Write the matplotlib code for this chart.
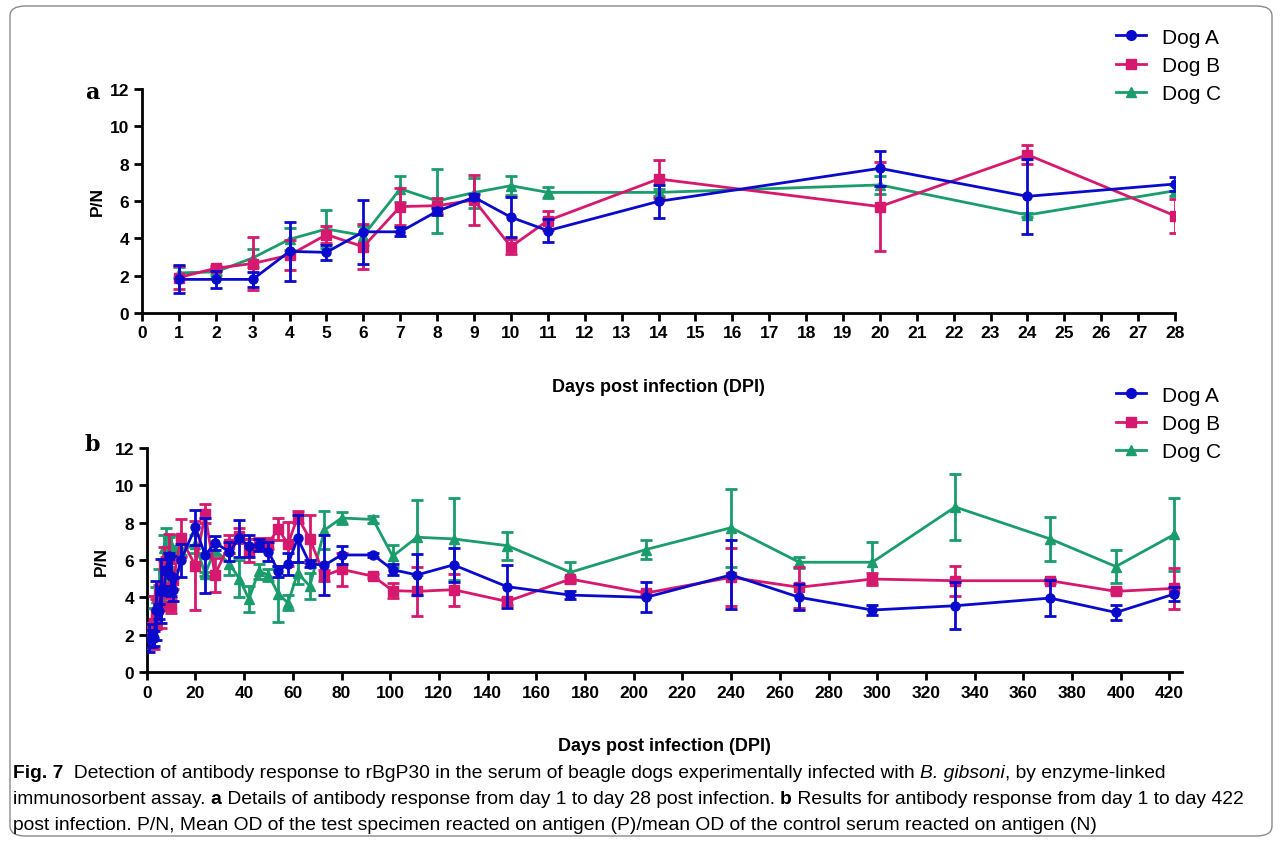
import numpy as np
import matplotlib.pyplot as plt
from matplotlib.patches import FancyBboxPatch
from matplotlib.lines import Line2D

plt.rcParams['font.family'] = ['Liberation Sans', 'DejaVu Sans']

# panel a, days 1-28
days_a = [1, 2, 3, 4, 5, 6, 7, 8, 9, 10, 11, 14, 20, 24, 28]
a_dogA = [1.8, 1.8, 1.8, 3.3, 3.25, 4.35, 4.35, 5.45, 6.2, 5.13, 4.41, 5.98, 7.75, 6.25, 6.91]
a_dogA_err = [0.75, 0.45, 0.4, 1.6, 0.4, 1.7, 0.25, 0.2, 0.15, 1.07, 0.62, 0.9, 0.95, 2.0, 0.38]
a_dogB = [1.9, 2.4, 2.65, 3.1, 4.2, 3.55, 5.7, 5.75, 6.05, 3.55, 4.95, 7.18, 5.7, 8.48, 5.21]
a_dogB_err = [0.6, 0.1, 1.4, 0.8, 0.45, 1.2, 1.0, 0.4, 1.35, 0.4, 0.5, 1.0, 2.37, 0.5, 0.9]
a_dogC = [2.15, 2.2, 2.95, 3.95, 4.5, 4.15, 6.65, 6.0, 6.45, 6.82, 6.46, 6.46, 6.86, 5.25, 6.55]
a_dogC_err = [0.3, 0.15, 0.5, 0.6, 1.0, 0.5, 0.7, 1.7, 0.8, 0.5, 0.3, 0.2, 0.5, 0.1, 0.3]

# panel b, the days after 28
days_late = [34, 38, 42, 46, 50, 54, 58, 62, 67, 73, 80, 93, 101, 111, 126, 148, 174, 205,
             240, 268, 298, 332, 371, 398, 422]
late_dogA = [6.45, 7.16, 6.75, 6.8, 6.45, 5.4, 5.78, 7.16, 5.8, 5.72, 6.27, 6.27, 5.48, 5.2, 5.74,
             4.57, 4.12, 4.0, 5.2, 4.0, 3.32, 3.55, 3.96, 3.19, 4.18]
late_dogA_err = [0.5, 1.0, 0.6, 0.3, 0.5, 0.3, 0.6, 1.25, 0.2, 1.6, 0.5, 0.1, 0.3, 1.1, 0.9,
                 1.15, 0.2, 0.8, 1.85, 0.7, 0.25, 1.25, 0.95, 0.4, 0.4]
late_dogB = [6.86, 7.3, 6.5, 6.86, 6.9, 7.66, 6.86, 8.3, 7.13, 5.16, 5.5, 5.13, 4.36, 4.32, 4.41,
             3.78, 4.98, 4.23, 5.07, 4.54, 4.98, 4.89, 4.89, 4.32, 4.48]
late_dogB_err = [0.5, 0.4, 0.6, 0.3, 0.3, 0.6, 1.2, 0.3, 1.3, 0.3, 0.9, 0.1, 0.4, 1.3, 0.85,
                 0.2, 0.1, 0.1, 1.55, 1.1, 0.3, 0.8, 0.1, 0.1, 1.1]
late_dogC = [5.8, 5.0, 3.9, 5.4, 5.2, 4.2, 3.7, 5.3, 4.6, 7.6, 8.25, 8.17, 6.2, 7.22, 7.13,
             6.77, 5.34, 6.56, 7.73, 5.88, 5.88, 8.84, 7.13, 5.65, 7.37]
late_dogC_err = [0.6, 1.0, 0.7, 0.4, 0.3, 1.5, 0.4, 0.6, 0.7, 1.0, 0.3, 0.2, 0.6, 2.0, 2.2,
                 0.75, 0.55, 0.5, 2.1, 0.3, 1.1, 1.75, 1.2, 0.9, 1.95]

dogs = ['Dog A', 'Dog B', 'Dog C']
colors = ['#0A0ACD', '#D6186E', '#1A9C6C']
markers = ['o', 's', '^']

W, H = 1282, 845
fig = plt.figure(figsize=(W / 100, H / 100), dpi=100)

# rounded frame
fig.patches.append(FancyBboxPatch((10 / W, 8 / H), 1262 / W, 830 / H,
                                  boxstyle='round,pad=0,rounding_size=0.012',
                                  transform=fig.transFigure, fill=False,
                                  ec='#8a8a8a', lw=1.0))


def fx(px):
    return px / W


def fy(py):
    return 1 - py / H


ax_a = fig.add_axes([fx(142), fy(314), fx(1175 - 142), (314 - 90) / H])
ax_b = fig.add_axes([fx(146.7), fy(673), fx(1181.6 - 146.7), (673 - 449) / H])

series_a = [(a_dogA, a_dogA_err), (a_dogB, a_dogB_err), (a_dogC, a_dogC_err)]
series_b = [(a_dogA + late_dogA, a_dogA_err + late_dogA_err),
            (a_dogB + late_dogB, a_dogB_err + late_dogB_err),
            (a_dogC + late_dogC, a_dogC_err + late_dogC_err)]
days_b = days_a + days_late

for ax, x, series in [(ax_a, days_a, series_a), (ax_b, days_b, series_b)]:
    for i in [2, 1, 0]:
        y, e = series[i]
        ax.errorbar(x, y, yerr=e, color=colors[i], marker=markers[i], ms=6.5,
                    lw=2.0, elinewidth=2.0, capsize=4, capthick=2.0,
                    zorder=3 + (2 - i))
    ax.set_ylim(0, 12)
    ax.set_yticks(range(0, 13, 2))
    for s in ['top', 'right']:
        ax.spines[s].set_visible(False)
    for s in ['left', 'bottom']:
        ax.spines[s].set_linewidth(2.0)
    ax.tick_params(width=2.0, length=6, labelsize=12.5, pad=3)
    ax.set_ylabel('P/N', fontsize=12.5, fontweight='bold', labelpad=4)

ax_a.set_xlim(0, 28)
ax_a.set_xticks(range(0, 29))
ax_b.set_xlim(0, 425)
ax_b.set_xticks(range(0, 421, 20))
for ax in [ax_a, ax_b]:
    for lab in ax.get_xticklabels() + ax.get_yticklabels():
        lab.set_fontweight('bold')
    ax.set_xlabel('Days post infection (DPI)', fontsize=13, fontweight='bold', labelpad=27)

# legends: line + marker only
leg_handles = [Line2D([], [], color=colors[i], marker=markers[i], ms=7, lw=2.0)
               for i in range(3)]
for top in [10, 368]:
    fig.legend(leg_handles, dogs, loc='upper left', bbox_to_anchor=(fx(1097), fy(top)),
               frameon=False, fontsize=15, handlelength=1.45,
               handletextpad=0.75, labelspacing=0.45)

fig.text(fx(92), fy(93), 'a', family='DejaVu Serif', fontweight='bold', fontsize=16,
         ha='center', va='center')
fig.text(fx(92), fy(445), 'b', family='DejaVu Serif', fontweight='bold', fontsize=16,
         ha='center', va='center')

# caption with mixed styles
cap_lines = [
    [('Fig. 7', 'bold', 'normal'),
     ('  Detection of antibody response to rBgP30 in the serum of beagle dogs experimentally infected with ', 'normal', 'normal'),
     ('B. gibsoni', 'normal', 'italic'),
     (', by enzyme-linked', 'normal', 'normal')],
    [('immunosorbent assay. ', 'normal', 'normal'),
     ('a', 'bold', 'normal'),
     (' Details of antibody response from day 1 to day 28 post infection. ', 'normal', 'normal'),
     ('b', 'bold', 'normal'),
     (' Results for antibody response from day 1 to day 422', 'normal', 'normal')],
    [('post infection. P/N, Mean OD of the test specimen reacted on antigen (P)/mean OD of the control serum reacted on antigen (N)', 'normal', 'normal')],
]
cap_y = [774, 800, 826]
fig.canvas.draw()
renderer = fig.canvas.get_renderer()

# size the caption so the last line spans about 1084 px, as in the reference
probe = fig.text(0, 0, cap_lines[2][0][0], fontsize=10)
cap_size = 10 * 1084 / probe.get_window_extent(renderer).width
probe.remove()

for line, py in zip(cap_lines, cap_y):
    x0 = 13
    for txt, wt, st in line:
        t = fig.text(fx(x0), fy(py), txt, fontsize=cap_size,
                     fontweight=wt, fontstyle=st, va='center', ha='left')
        bb = t.get_window_extent(renderer)
        x0 += bb.width

fig.savefig('out.png', dpi=100)
